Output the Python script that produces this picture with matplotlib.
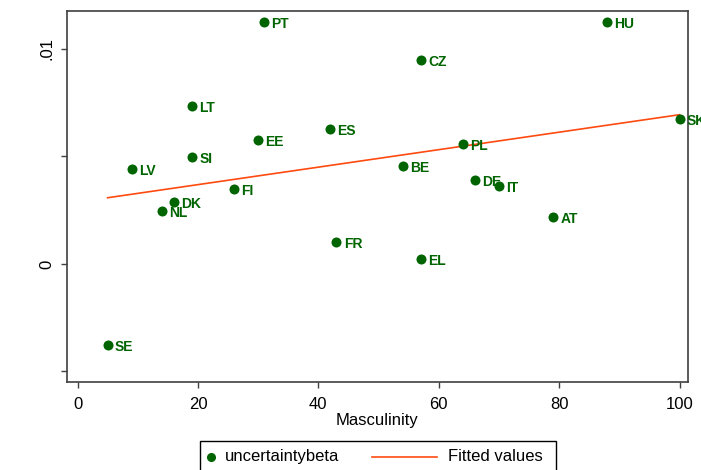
import numpy as np
import matplotlib
matplotlib.use("Agg")
import matplotlib.pyplot as plt
from matplotlib.lines import Line2D
from matplotlib.patches import Rectangle

# Country codes, Hofstede masculinity scores and estimated uncertainty betas
countries = ["PT", "HU", "CZ", "LT", "ES", "EE", "SI", "LV", "PL", "BE",
             "SK", "DE", "IT", "FI", "DK", "NL", "AT", "FR", "EL", "SE"]
masculinity = [31, 88, 57, 19, 42, 30, 19, 9, 64, 54,
               100, 66, 70, 26, 16, 14, 79, 43, 57, 5]
uncertaintybeta = [0.01126, 0.01124, 0.00947, 0.00735, 0.00629, 0.00575,
                   0.00499, 0.00442, 0.00558, 0.00457, 0.00674, 0.00391,
                   0.00361, 0.00350, 0.00288, 0.00245, 0.00219, 0.00102,
                   0.00022, -0.00378]

x_ticks = [0, 20, 40, 60, 80, 100]
y_ticks = [-0.005, 0, 0.005, 0.01]
y_tick_labels = ["", "0", "", ".01"]
legend_labels = ["uncertaintybeta", "Fitted values"]

plt.rcParams["font.family"] = ["Liberation Sans", "DejaVu Sans"]

green = "#006400"
fit_color = "#FF4A10"
frame_color = "#404040"
W, H = 701, 470

fig = plt.figure(figsize=(W / 100, H / 100), dpi=100)
ax = fig.add_axes([66.7 / W, 1 - 382 / H, (688 - 66.7) / W, (382 - 11.3) / H])

x = np.array(masculinity, dtype=float)
y = np.array(uncertaintybeta, dtype=float)

# Linear fit over the observed range
slope, intercept = np.polyfit(x, y, 1)
xf = np.array([x.min(), x.max()])
ax.plot(xf, intercept + slope * xf, color=fit_color, lw=1.2, zorder=2)

ax.scatter(x, y, s=52, color=green, zorder=3, linewidths=0)
for cx, cy, lab in zip(x, y, countries):
    ax.annotate(lab, (cx, cy), xytext=(5.2, -1.5), textcoords="offset points",
                ha="left", va="center", fontsize=10, fontweight="bold",
                color=green, zorder=4, annotation_clip=False)

ax.set_xlim(-1.8, 101.4)
ax.set_ylim(-0.00549, 0.01175)
ax.set_xticks(x_ticks)
ax.set_xticklabels([str(t) for t in x_ticks])
ax.set_yticks(y_ticks)
ax.set_yticklabels(y_tick_labels, rotation=90, va="center")

for sp in ax.spines.values():
    sp.set_color(frame_color)
    sp.set_linewidth(1.2)
ax.tick_params(direction="out", length=4.5, width=1, color=frame_color,
               labelsize=12, labelcolor="black", pad=4.5)
ax.tick_params(axis="x", pad=6)

ax.set_xlabel("Masculinity", fontsize=12, labelpad=0.8)

# Legend box below the plot, laid out in figure pixels
def fx(px):
    return px / W

def fy(py):
    return 1 - py / H

fig.patches.append(Rectangle((fx(199.5), fy(480)), fx(556) - fx(199.5),
                             fy(441) - fy(480), transform=fig.transFigure,
                             facecolor="white", edgecolor="black", lw=1.0))
row_y = 456.5
fig.lines.append(Line2D([fx(211)], [fy(row_y)], marker="o", color=green,
                        markersize=5.5, ls="none", transform=fig.transFigure))
fig.text(fx(225), fy(row_y), legend_labels[0], fontsize=12,
         ha="left", va="center")
fig.lines.append(Line2D([fx(372), fx(437)], [fy(row_y), fy(row_y)],
                        color=fit_color, lw=1.2, transform=fig.transFigure))
fig.text(fx(448), fy(row_y), legend_labels[1], fontsize=12,
         ha="left", va="center")

fig.savefig("out.png", dpi=100)
